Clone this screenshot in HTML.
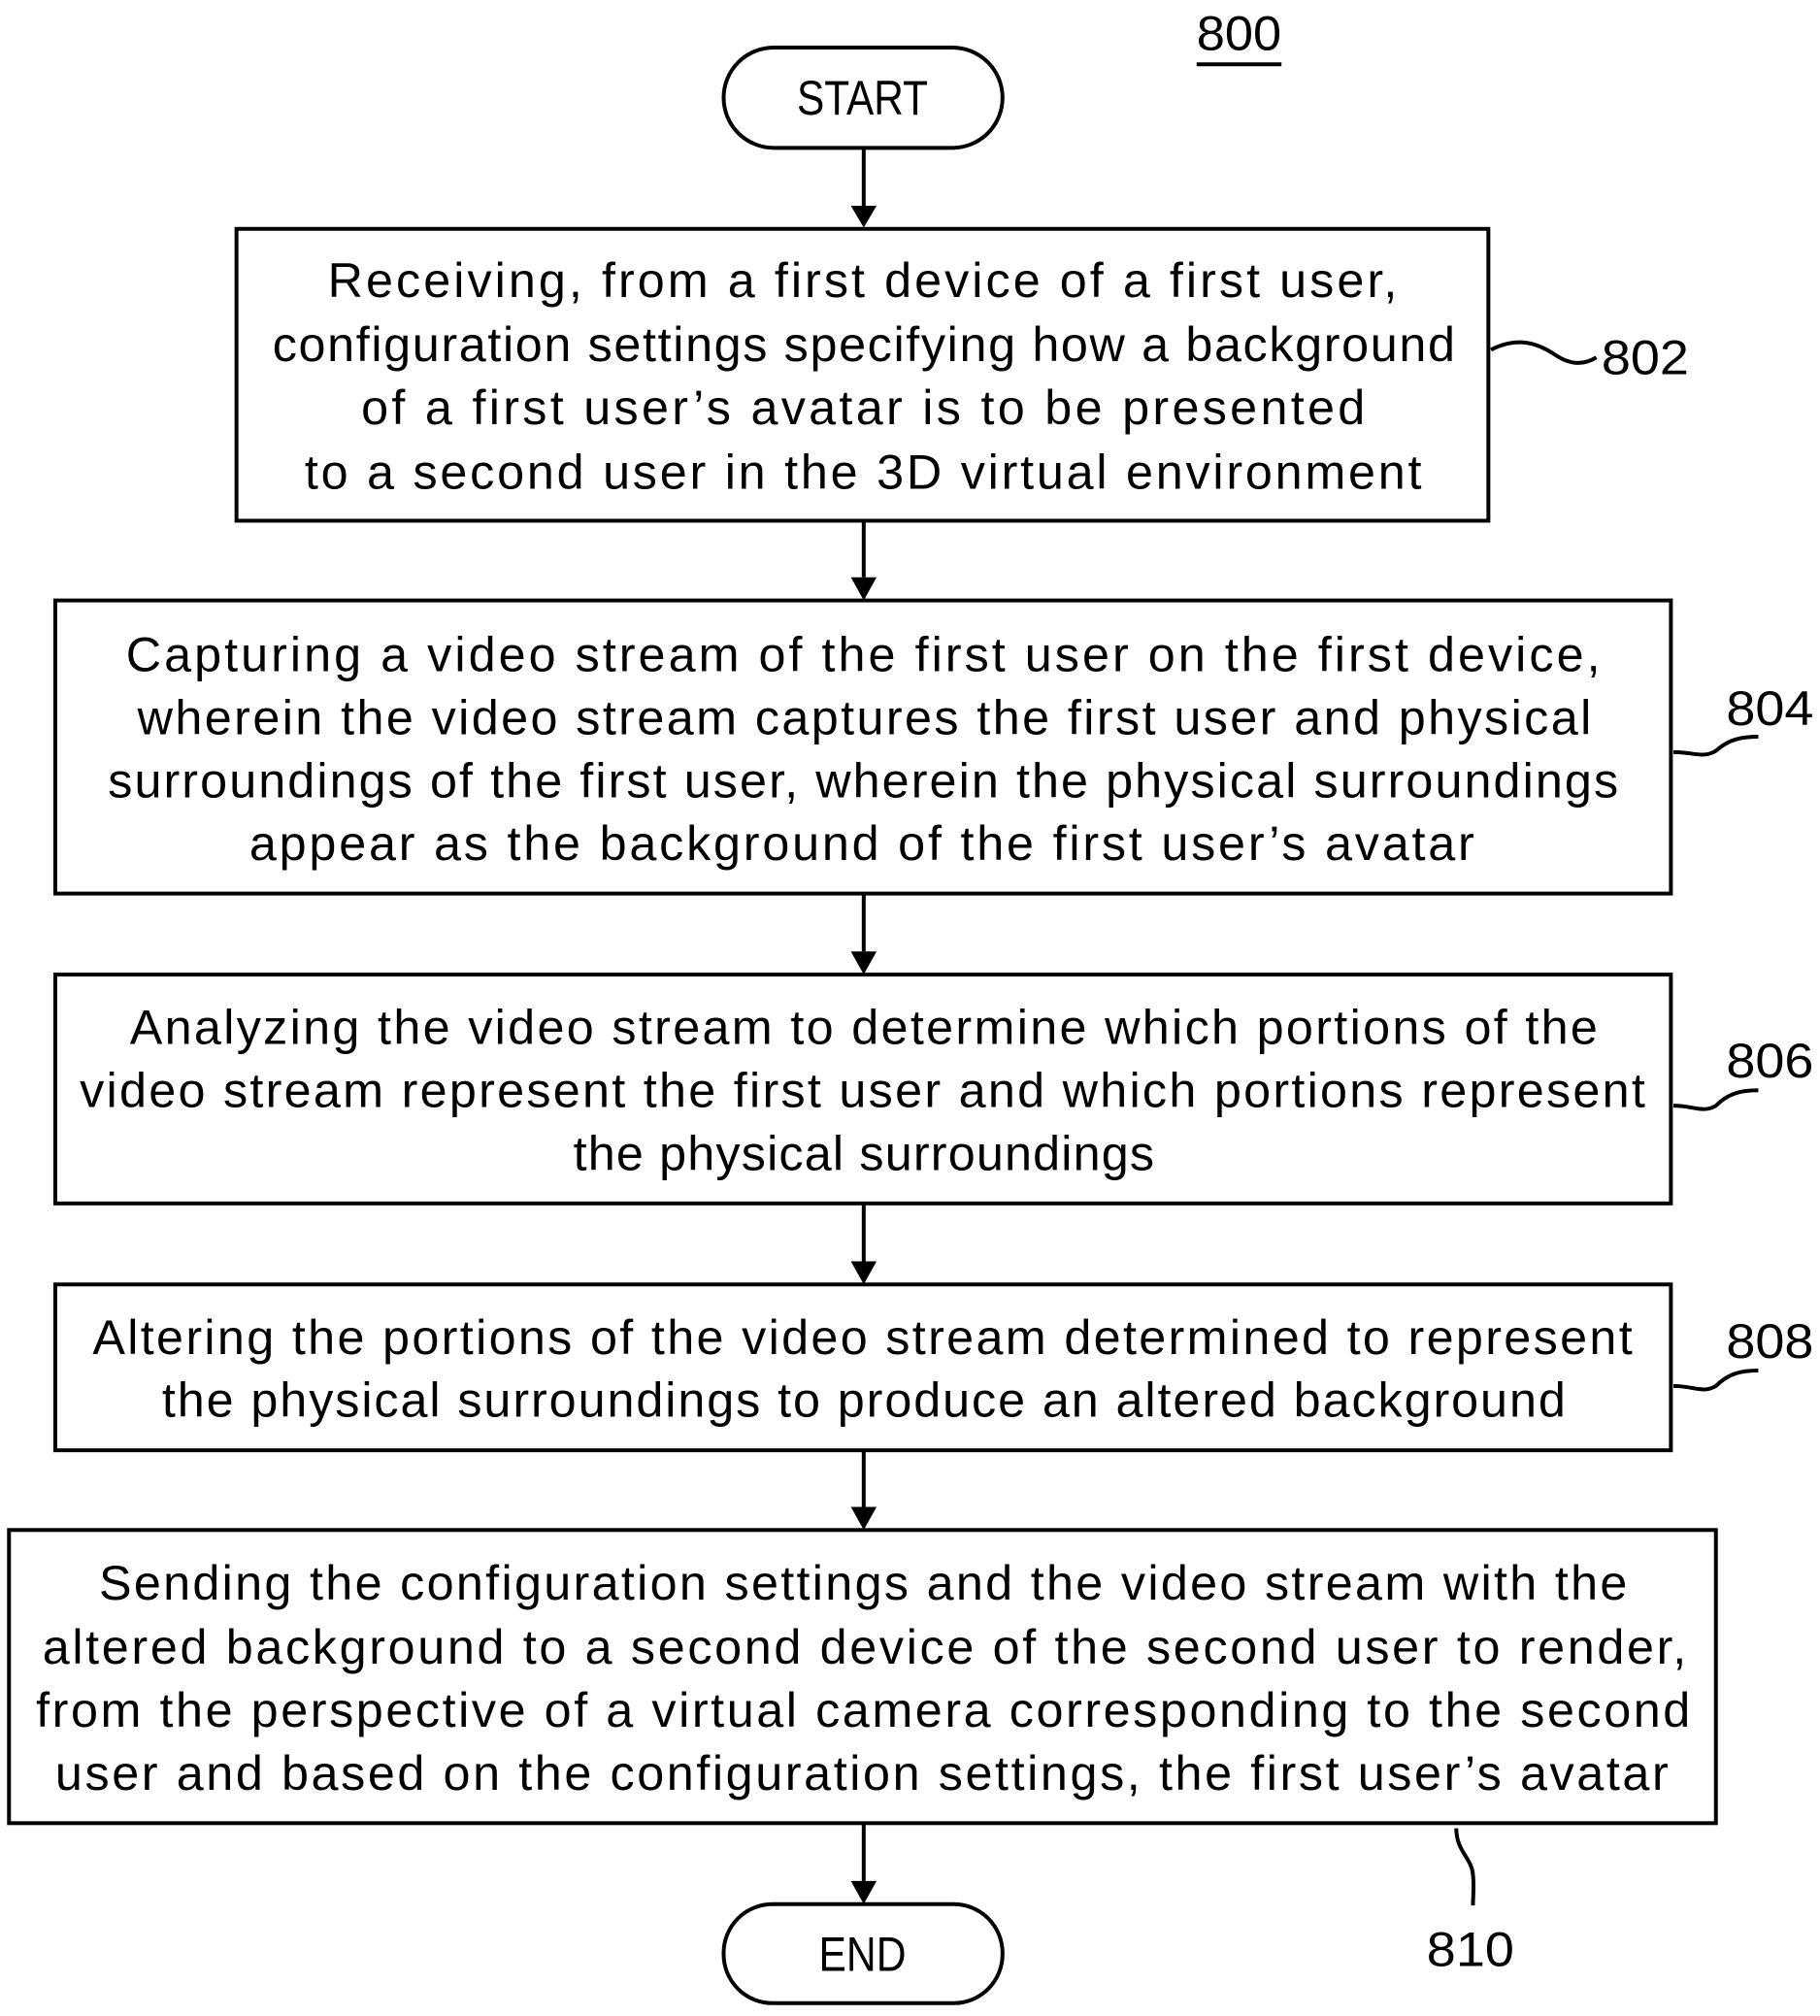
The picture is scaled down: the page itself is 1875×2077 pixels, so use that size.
<!DOCTYPE html>
<html><head><meta charset="utf-8"><style>
html,body{margin:0;padding:0;background:#fff;}
svg{display:block;}
text{font-family:"Liberation Sans",sans-serif;font-size:38px;fill:#000;}
</style></head><body>
<svg width="1875" height="2077" viewBox="0 0 1416 1568" preserveAspectRatio="none" xmlns="http://www.w3.org/2000/svg">
<defs><marker id="a" markerWidth="10" markerHeight="10" refX="9" refY="5" orient="auto" markerUnits="userSpaceOnUse">
</marker></defs>
<g fill="none" stroke="#000" stroke-width="3">
<rect x="563" y="37" width="217" height="78" rx="39"/>
<rect x="563" y="1481" width="217" height="77" rx="38"/>
<rect x="184" y="178" width="974" height="227"/>
<rect x="43" y="467" width="1257" height="228"/>
<rect x="43" y="758" width="1257" height="178"/>
<rect x="43" y="999" width="1257" height="129"/>
<rect x="7" y="1190" width="1328" height="228"/>
<line x1="672" y1="115" x2="672" y2="160"/>
<line x1="672" y1="405" x2="672" y2="449"/>
<line x1="672" y1="695" x2="672" y2="740"/>
<line x1="672" y1="936" x2="672" y2="981"/>
<line x1="672" y1="1128" x2="672" y2="1172"/>
<line x1="672" y1="1418" x2="672" y2="1463"/>
<line x1="931" y1="50" x2="997" y2="50"/>
<path d="M1160 272 C1180 262,1195 266,1210 276 C1222 284,1232 284,1242 278"/>
<path d="M1302 585 C1318 585,1325 590,1335 584 C1345 575,1355 573,1368 573"/>
<path d="M1302 860 C1318 860,1325 866,1335 860 C1345 850,1355 848,1368 848"/>
<path d="M1302 1078 C1318 1078,1325 1084,1335 1078 C1345 1068,1355 1066,1368 1066"/>
<path d="M1133 1422 C1133 1440,1145 1445,1146 1458 C1147 1468,1146 1475,1146 1482"/>
</g>
<g fill="#000">
<path d="M662 160 L682 160 L672 177 Z"/>
<path d="M662 449 L682 449 L672 467 Z"/>
<path d="M662 740 L682 740 L672 758 Z"/>
<path d="M662 981 L682 981 L672 999 Z"/>
<path d="M662 1172 L682 1172 L672 1190 Z"/>
<path d="M662 1463 L682 1463 L672 1481 Z"/>
</g>
<text x="931" y="39" textLength="66" lengthAdjust="spacingAndGlyphs">800</text>
<text x="620" y="89" textLength="102" lengthAdjust="spacingAndGlyphs">START</text>
<text x="637" y="1533" textLength="68" lengthAdjust="spacingAndGlyphs">END</text>
<text x="1246" y="291" textLength="68" lengthAdjust="spacingAndGlyphs">802</text>
<text x="1343" y="564" textLength="68" lengthAdjust="spacingAndGlyphs">804</text>
<text x="1343" y="838" textLength="68" lengthAdjust="spacingAndGlyphs">806</text>
<text x="1343" y="1056" textLength="68" lengthAdjust="spacingAndGlyphs">808</text>
<text x="1110" y="1529" textLength="68" lengthAdjust="spacingAndGlyphs">810</text>
<g lengthAdjust="spacing">
<text x="255" y="231" textLength="832" lengthAdjust="spacing">Receiving, from a first device of a first user,</text>
<text x="212" y="281" textLength="920" lengthAdjust="spacing">configuration settings specifying how a background</text>
<text x="281" y="330" textLength="781" lengthAdjust="spacing">of a first user’s avatar is to be presented</text>
<text x="237" y="380" textLength="869" lengthAdjust="spacing">to a second user in the 3D virtual environment</text>
<text x="98" y="522" textLength="1147" lengthAdjust="spacing">Capturing a video stream of the first user on the first device,</text>
<text x="107" y="571" textLength="1131" lengthAdjust="spacing">wherein the video stream captures the first user and physical</text>
<text x="84" y="620" textLength="1175" lengthAdjust="spacing">surroundings of the first user, wherein the physical surroundings</text>
<text x="194" y="669" textLength="953" lengthAdjust="spacing">appear as the background of the first user’s avatar</text>
<text x="101" y="812" textLength="1142" lengthAdjust="spacing">Analyzing the video stream to determine which portions of the</text>
<text x="62" y="861" textLength="1218" lengthAdjust="spacing">video stream represent the first user and which portions represent</text>
<text x="446" y="910" textLength="452" lengthAdjust="spacing">the physical surroundings</text>
<text x="72" y="1053" textLength="1198" lengthAdjust="spacing">Altering the portions of the video stream determined to represent</text>
<text x="126" y="1102" textLength="1092" lengthAdjust="spacing">the physical surroundings to produce an altered background</text>
<text x="77" y="1244" textLength="1189" lengthAdjust="spacing">Sending the configuration settings and the video stream with the</text>
<text x="33" y="1294" textLength="1279" lengthAdjust="spacing">altered background to a second device of the second user to render,</text>
<text x="28" y="1343" textLength="1287" lengthAdjust="spacing">from the perspective of a virtual camera corresponding to the second</text>
<text x="43" y="1392" textLength="1255" lengthAdjust="spacing">user and based on the configuration settings, the first user’s avatar</text>
</g>
</svg>
</body></html>
